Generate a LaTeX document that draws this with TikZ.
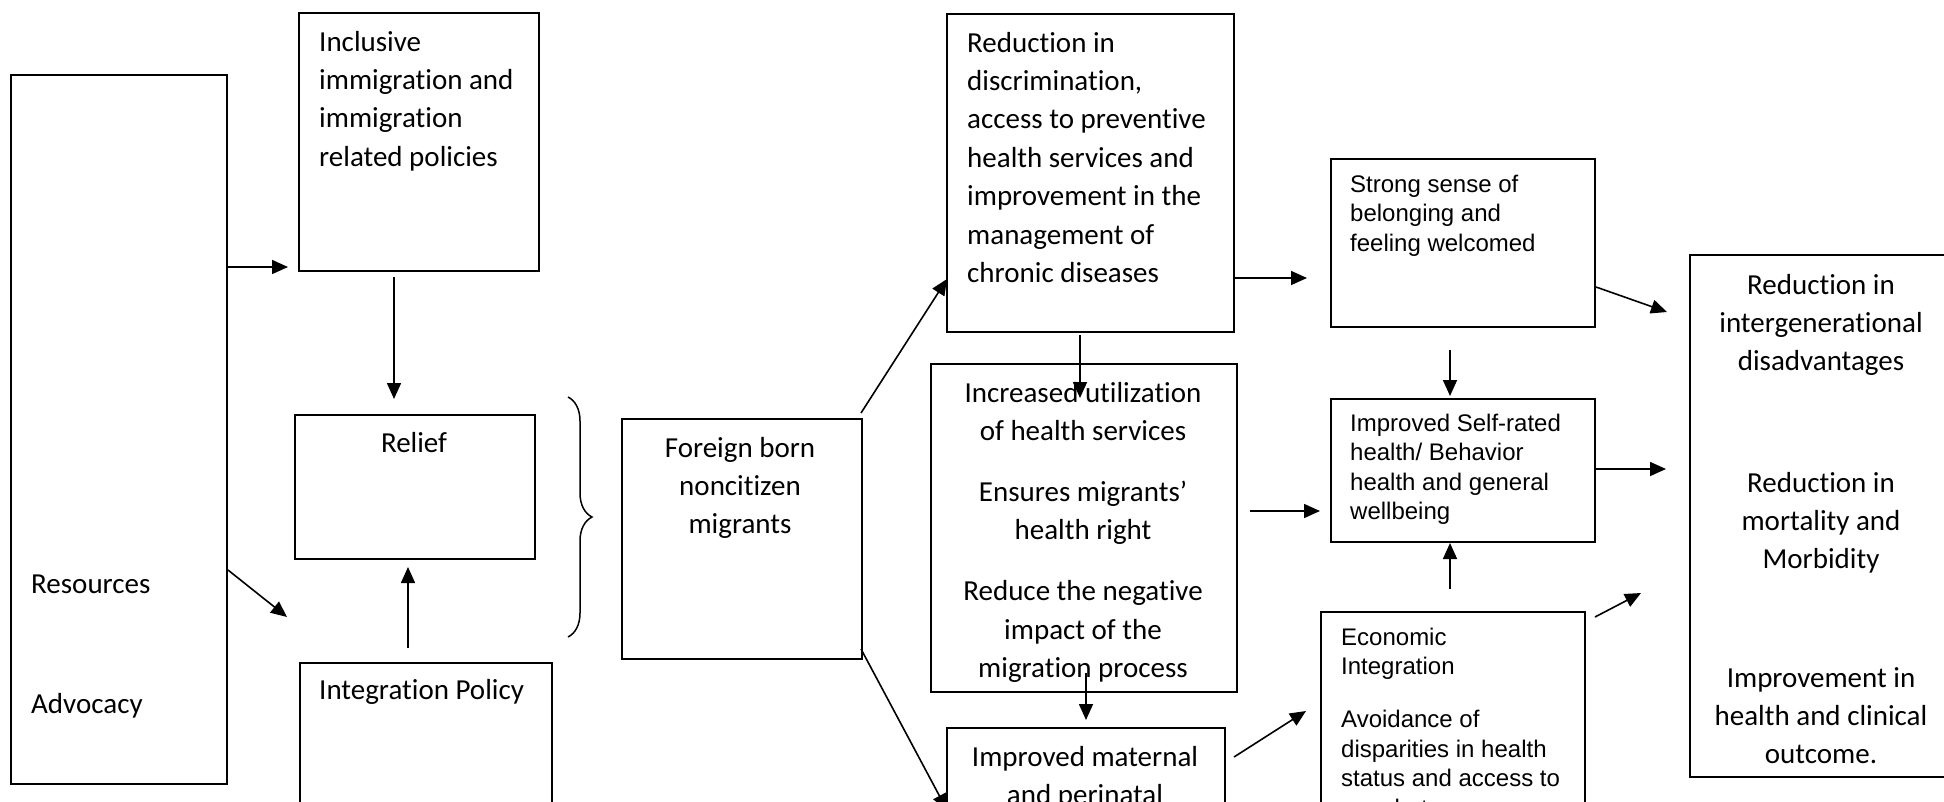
\documentclass[tikz,border=0pt]{standalone}
\usepackage{fontspec}
\setmainfont{Carlito}[Ligatures={NoCommon}]
\newfontfamily\arialf{Liberation Sans}
\usetikzlibrary{arrows.meta,decorations.pathreplacing,calc}
\newcommand\calfont{\fontsize{29}{38.4}\selectfont}
\newcommand\arfont{\arialf\fontsize{24}{29.5}\selectfont}
\tikzset{
  box/.style={draw, line width=2pt, inner sep=0pt, anchor=north west},
  arr/.style={line width=1.6pt, -{Triangle[length=16pt,width=14pt]}},
  ct/.style={inner sep=0pt, font=\calfont, anchor=north west, align=left},
  cc/.style={inner sep=0pt, font=\calfont, anchor=north, align=center},
  artext/.style={inner sep=0pt, font=\arfont, anchor=north west, align=left},
}
\begin{document}
\begin{tikzpicture}[x=1pt,y=-1pt]
\useasboundingbox (0,0) rectangle (1944,801);
\clip (0,0) rectangle (1944,801);
\fill[white] (0,0) rectangle (1944,801);

% boxes
\node[box, minimum width=216, minimum height=709] (res) at (10,74) {};
\node[box, minimum width=240, minimum height=258] (inc) at (298,12) {};
\node[box, minimum width=240, minimum height=144] (rel) at (294,414) {};
\node[box, minimum width=252, minimum height=200] (integ) at (299,662) {};
\node[box, minimum width=240, minimum height=240] (forn) at (621,418) {};
\node[box, minimum width=287, minimum height=318] (red) at (946,13) {};
\node[box, minimum width=306, minimum height=328] (incr) at (930,363) {};
\node[box, minimum width=278, minimum height=150] (mat) at (946,727) {};
\node[box, minimum width=264, minimum height=168] (strong) at (1330,158) {};
\node[box, minimum width=264, minimum height=143] (self) at (1330,398) {};
\node[box, minimum width=264, minimum height=250] (econ) at (1320,611) {};
\node[box, minimum width=270, minimum height=522] (fin) at (1689,254) {};

% texts
\node[ct] (tres) at (31,566) {\strut Resources};
\node[ct] (tadv) at (31,686) {\strut Advocacy};
\node[ct] (tinc) at (319,24) {\strut Inclusive\\immigration and\\immigration\\related policies};
\node[cc] (trel) at (414,425) {\strut Relief};
\node[ct] (tint) at (319,672) {\strut Integration Policy};
\node[cc] (tfor) at (740,430) {\strut Foreign born\\noncitizen\\migrants};
\node[ct] (tred) at (967,25) {\strut Reduction in\\discrimination,\\access to preventive\\health services and\\improvement in the\\management of\\chronic diseases};
\node[cc] (tincr) at (1083,375) {\strut Increased utilization\\of health services\\[22.5pt]Ensures migrants’\\health right\\[22.5pt]Reduce the negative\\impact of the\\migration process};
\node[cc] (tmat) at (1085,739) {\strut Improved maternal\\and perinatal};
\node[artext] (tstr) at (1350,171.3) {\strut Strong sense of\\belonging and\\feeling welcomed};
\node[artext] (tself) at (1350,410.3) {\strut Improved Self-rated\\health/ Behavior\\health and general\\wellbeing};
\node[artext] (tecon) at (1341,624.3) {\strut Economic\\Integration\\[23.5pt]Avoidance of\\disparities in health\\status and access to\\care between};
\node[cc] (tf1) at (1821,267.1) {\strut Reduction in\\intergenerational\\disadvantages};
\node[cc] (tf2) at (1821,465.1) {\strut Reduction in\\mortality and\\Morbidity};
\node[cc] (tf3) at (1821,660.1) {\strut Improvement in\\health and clinical\\outcome.};

% brace
\coordinate (bt) at (568,397);
\coordinate (bb) at (568,637);
\draw[line width=1.5pt, decorate, decoration={brace, amplitude=24pt}] (bt) -- (bb);

% arrow ends
\coordinate (t1) at (288,267);
\coordinate (t2) at (287,617);
\coordinate (s3) at (394,277);
\coordinate (s4) at (408,648);
\coordinate (s5) at (861,413);
\coordinate (t5) at (947,279);
\coordinate (s6) at (861,649);
\coordinate (t6) at (947,810);
\coordinate (s7) at (1080,335);
\coordinate (t7) at (1080,398);
\coordinate (s8) at (1086,673);
\coordinate (t8) at (1086,720);
\coordinate (t9) at (1307,278);
\coordinate (s10) at (1250,511);
\coordinate (s11) at (1234,757);
\coordinate (t11) at (1306,711);
\coordinate (s12) at (1450,350);
\coordinate (s13) at (1450,589);
\coordinate (s14) at (1596,287);
\coordinate (t14) at (1667,312);
\coordinate (t15) at (1666,469);
\coordinate (s16) at (1595,617);
\coordinate (t16) at (1641,593);

% connectors
\draw[arr] (res.east |- t1) -- (t1);
\draw[arr] (res.east |- 0,570) -- (t2);
\draw[arr] (s3) -- (s3 |- 0,399);
\draw[arr] (s4) -- (s4 |- 0,567);
\draw[arr] (s5) -- (t5);
\draw[arr] (s6) -- (t6);
\draw[arr] (s7) -- (t7);
\draw[arr] (s8) -- (t8);
\draw[arr] (red.east |- t9) -- (t9);
\draw[arr] (s10) -- (s10 -| 1320,0);
\draw[arr] (s11) -- (t11);
\draw[arr] (s12) -- (s12 |- 0,396);
\draw[arr] (s13) -- (s13 |- 0,543);
\draw[arr] (s14) -- (t14);
\draw[arr] (self.east |- t15) -- (t15);
\draw[arr] (s16) -- (t16);
\end{tikzpicture}
\end{document}
